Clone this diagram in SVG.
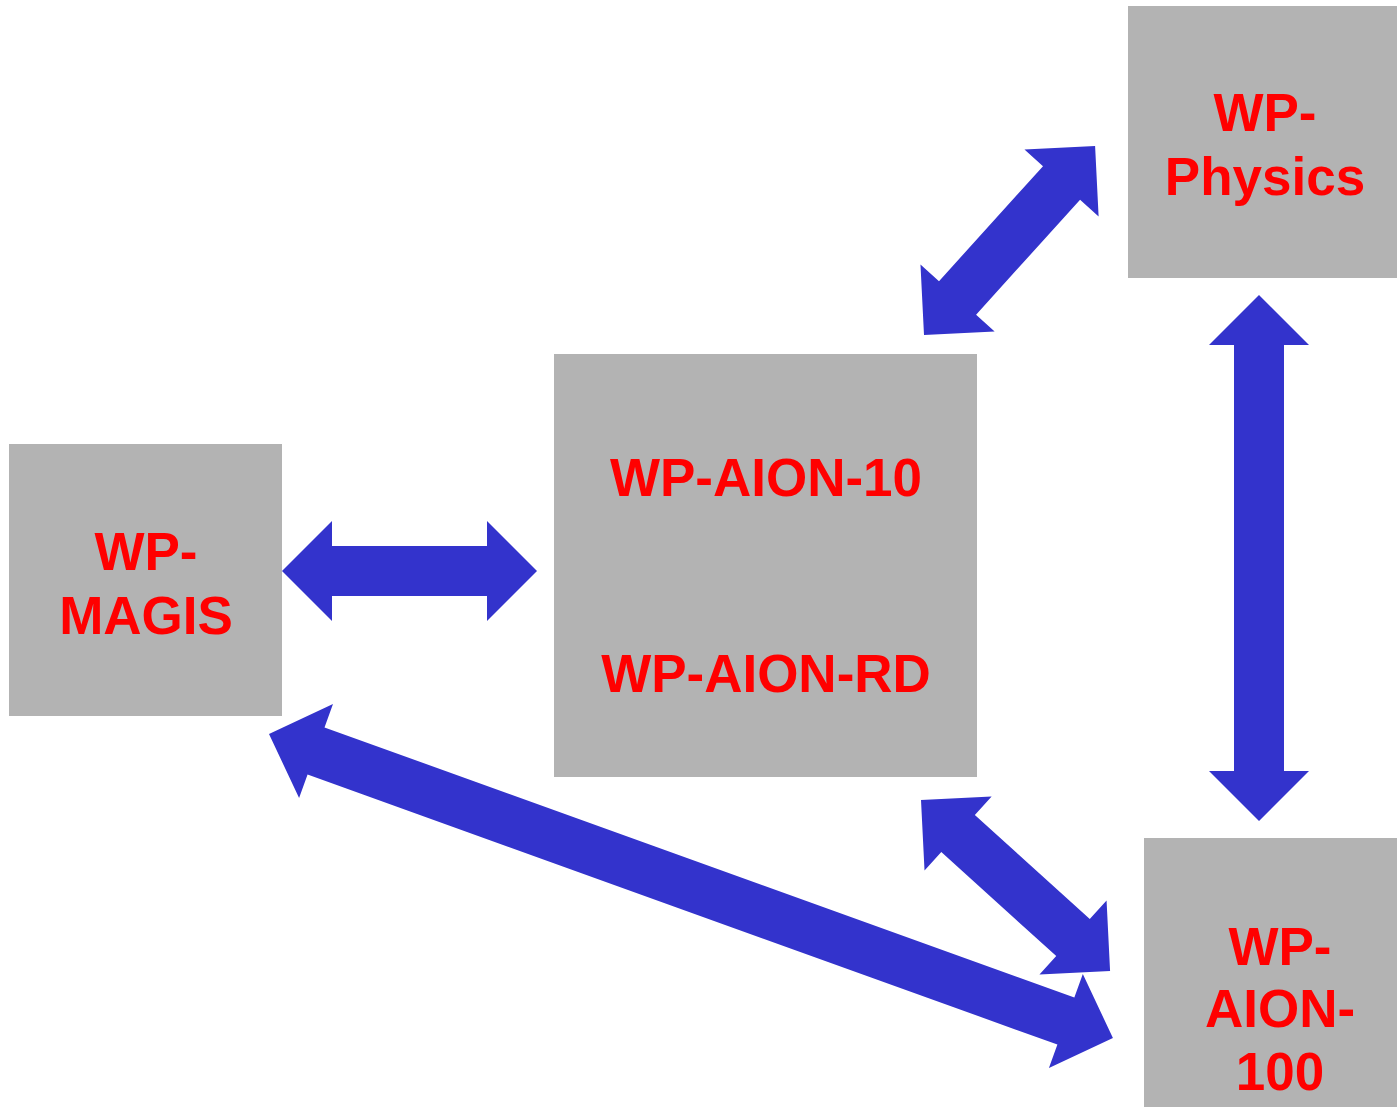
<svg xmlns="http://www.w3.org/2000/svg" width="1397" height="1107" viewBox="0 0 1397 1107">
<style>
.box{fill:#b3b3b3}
.lbl{font-family:"Liberation Sans",Arial,sans-serif;font-weight:bold;font-size:53px;fill:#ff0000;text-anchor:middle}
.arr{fill:#3333cc}
</style>
<rect width="1397" height="1107" fill="#ffffff"/>
<g id="connectors">
<polygon class="arr" transform="translate(282,571)" points="0,0 50,-50 50,-25 205,-25 205,-50 255,0 205,50 205,25 50,25 50,50"/>
<polygon class="arr" transform="translate(1259,295) rotate(90)" points="0,0 50,-50 50,-25 476,-25 476,-50 526,0 476,50 476,25 50,25 50,50"/>
<polygon class="arr" transform="translate(924,335) rotate(-47.86)" points="0,0 50,-50 50,-25 205,-25 205,-50 255,0 205,50 205,25 50,25 50,50"/>
<polygon class="arr" transform="translate(921,800) rotate(42.14)" points="0,0 50,-50 50,-25 205,-25 205,-50 255,0 205,50 205,25 50,25 50,50"/>
<polygon class="arr" transform="translate(269,734) rotate(19.81)" points="0,0 50,-50 50,-25 847,-25 847,-50 897,0 847,50 847,25 50,25 50,50"/>
</g>
<g id="magis">
<rect class="box" x="9" y="444" width="273" height="272"/>
<text class="lbl" x="146" y="570">WP-</text>
<text class="lbl" x="146" y="634">MAGIS</text>
</g>
<g id="aion10">
<rect class="box" x="554" y="354" width="423" height="423"/>
<text class="lbl" x="766" y="496">WP-AION-10</text>
<text class="lbl" x="766" y="692">WP-AION-RD</text>
</g>
<g id="physics">
<rect class="box" x="1128" y="6" width="269" height="272"/>
<text class="lbl" x="1265" y="131">WP-</text>
<text class="lbl" x="1265" y="195">Physics</text>
</g>
<g id="aion100">
<rect class="box" x="1144" y="838" width="253" height="269"/>
<text class="lbl" x="1280" y="965">WP-</text>
<text class="lbl" x="1280" y="1027">AION-</text>
<text class="lbl" x="1280" y="1090">100</text>
</g>
</svg>
